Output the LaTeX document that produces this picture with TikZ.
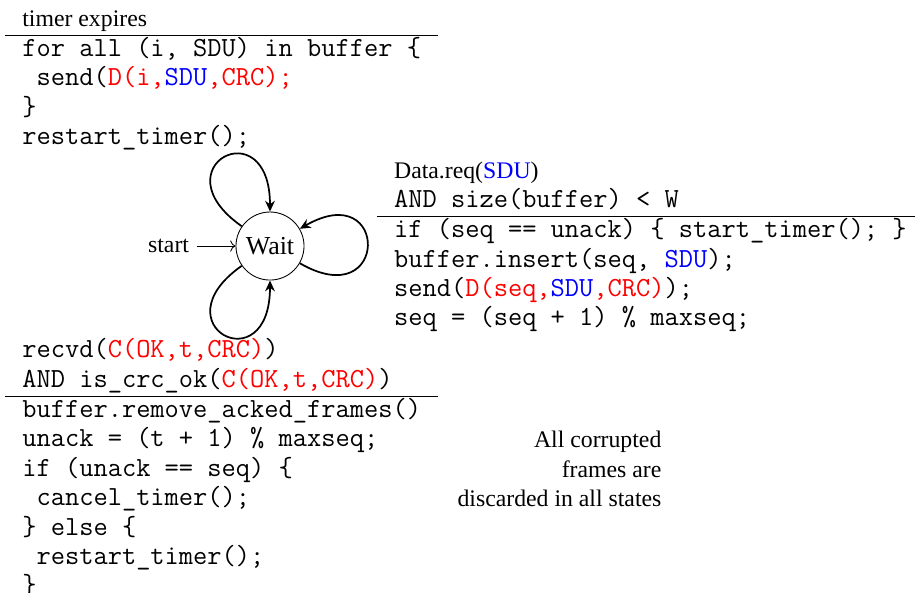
\documentclass[tikz,border=0pt]{standalone}
\usepackage{fontspec}
\setmainfont{Liberation Serif}
\usepackage{xcolor}
\usepackage{tikz}
\usetikzlibrary{arrows.meta}
\usetikzlibrary{positioning}

\setlength{\tabcolsep}{8pt}
\newcommand{\cd}[1]{{\fontsize{12.8pt}{13.6pt}\ttfamily #1}}
\newcommand{\frm}[1]{\textcolor{red}{#1}}
\newcommand{\sdu}{\textcolor{blue}{SDU}}

\begin{document}
\begin{tikzpicture}[font=\fontsize{11pt}{13.6pt}\selectfont,
  selfloop/.style={thick, -{Stealth[length=5pt,width=4.5pt]}, distance=48pt},
  label box/.style={inner sep=0pt, align=left}]
\useasboundingbox (-125pt,-160.2pt) rectangle (298.6pt,113.9pt);
% the only state
\node[draw, circle, minimum size=31.5pt, inner sep=0pt, font=\fontsize{12pt}{14pt}\selectfont] (wait) {Wait};
\node (start) [left=18pt of wait] {start};
\draw [->] (start) -- (wait);
% self loops
\draw [selfloop] (wait) to[out=145, in=90] (wait);
\draw [selfloop] (wait) to[out=-30, in=30] (wait);
\draw [selfloop] (wait) to[out=215, in=270] (wait);
% timer expires
\node (timeout) [above left=31.5pt and -89.4pt of wait, label box] {%
\begin{tabular}{l}
timer expires\\ \hline
\cd{for all (i, SDU) in buffer \{}\\
\cd{\ send(\frm{D(i,}\sdu\frm{,CRC);}}\\
\cd{\}}\\
\cd{restart\_timer();}
\end{tabular}};
% data request
\node (datareq) [right=33.3pt of wait, label box] {%
\begin{tabular}{l}
Data.req(\sdu)\\
\cd{AND size(buffer) < W}\\ \hline
\cd{if (seq == unack) \{ start\_timer(); \}}\\
\cd{buffer.insert(seq, \sdu);}\\
\cd{send(\frm{D(seq,}\sdu\frm{,CRC)});}\\
\cd{seq = (seq + 1) \% maxseq;}
\end{tabular}};
% ack received
\node (recvack) [below left=30.8pt and -89.4pt of wait, label box] {%
\begin{tabular}{l}
\cd{recvd(\frm{C(OK,t,CRC)})}\\
\cd{AND is\_crc\_ok(\frm{C(OK,t,CRC)})}\\ \hline
\cd{buffer.remove\_acked\_frames()}\\
\cd{unack = (t + 1) \% maxseq;}\\
\cd{if (unack == seq) \{}\\
\cd{\ cancel\_timer();}\\
\cd{\} else \{}\\
\cd{\ restart\_timer();}\\
\cd{\}}
\end{tabular}};
% note
\node (note) [below right=71pt and 72pt of wait, align=right] {All corrupted\\ frames are\\ discarded in all states};
\end{tikzpicture}
\end{document}
